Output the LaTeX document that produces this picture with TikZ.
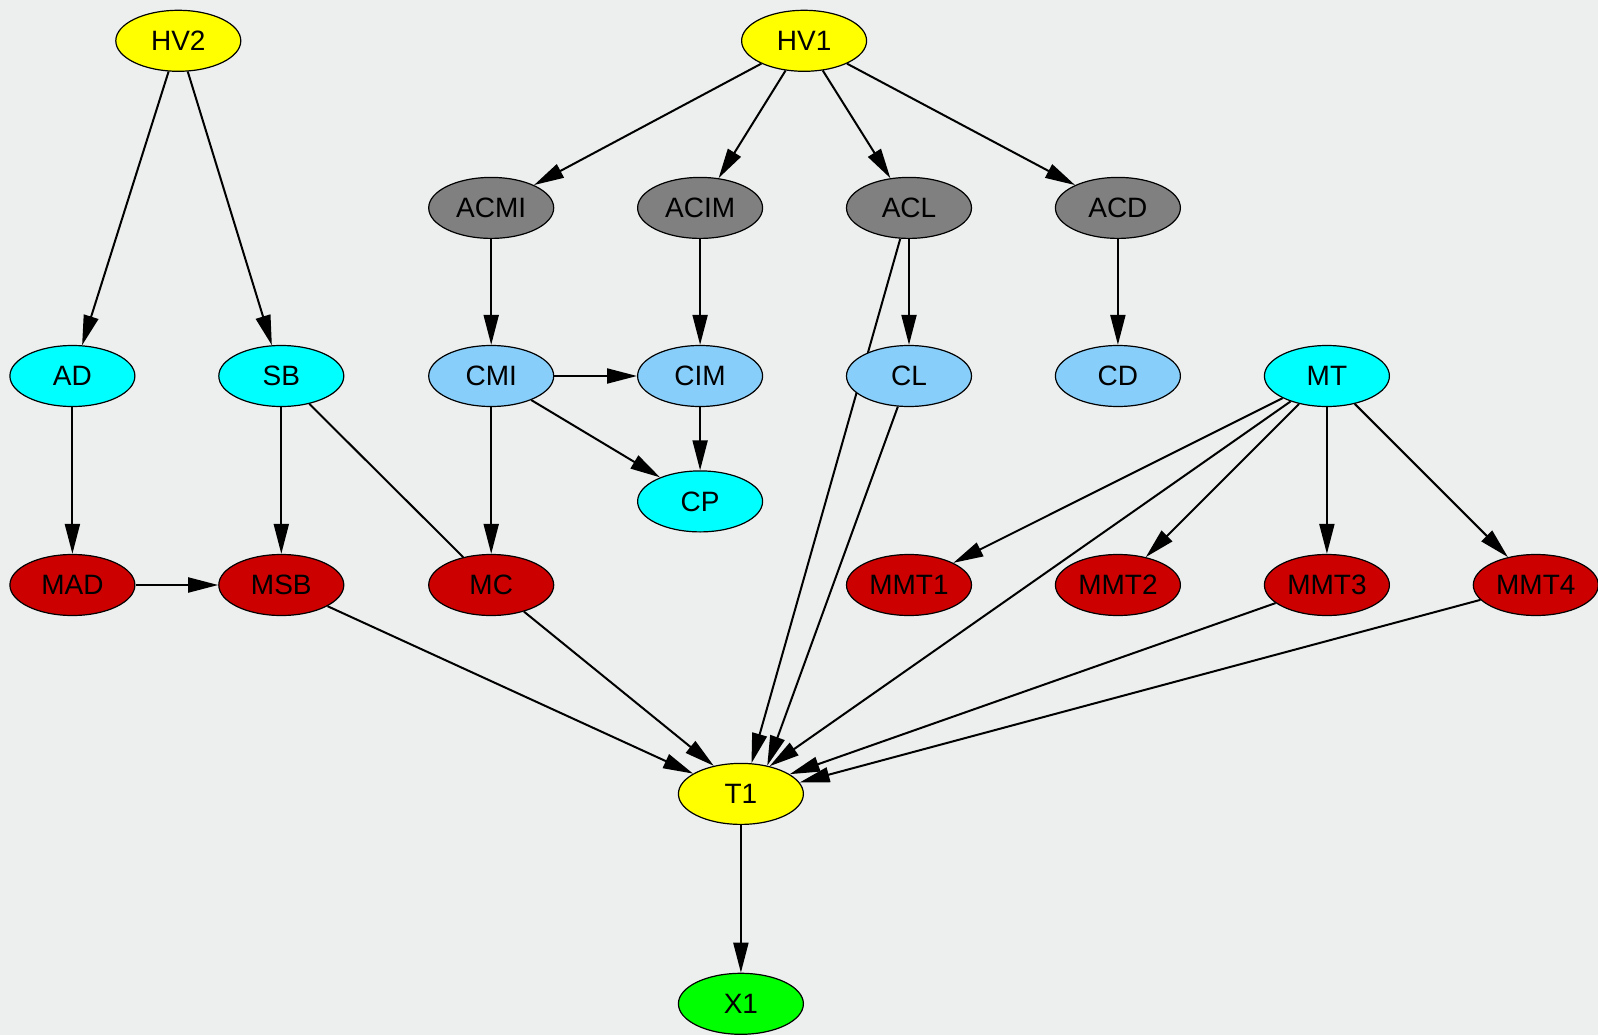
\documentclass[tikz,border=0pt]{standalone}
\usepackage{fontspec}
\setmainfont{Liberation Sans}
\usetikzlibrary{arrows.meta,shapes.geometric}

\pgfdeclarelayer{paper}
\pgfdeclarelayer{edgelayer}
\pgfsetlayers{paper,edgelayer,main}

\definecolor{paperbg}{RGB}{237,239,239}
\definecolor{hvyellow}{RGB}{255,255,0}
\definecolor{acgray}{RGB}{128,128,128}
\definecolor{cblue}{RGB}{135,206,250}
\definecolor{ccyan}{RGB}{0,255,255}
\definecolor{mred}{RGB}{205,0,0}
\definecolor{xgreen}{RGB}{0,255,0}

\tikzset{
  gnode/.style={ellipse, draw=black, line width=1.2pt,
    minimum width=125pt, minimum height=61pt, inner sep=0pt,
    font=\fontsize{28}{32}\selectfont},
  hv/.style={gnode, fill=hvyellow},
  ac/.style={gnode, fill=acgray},
  cb/.style={gnode, fill=cblue},
  cy/.style={gnode, fill=ccyan},
  mr/.style={gnode, fill=mred},
  xg/.style={gnode, fill=xgreen},
  link/.style={line width=2pt, -{Triangle[length=30pt,width=15pt]}},
  plainlink/.style={line width=2pt}
}

\begin{document}
\begin{tikzpicture}[x=1pt,y=-1pt]
  \begin{pgfonlayer}{paper}
    \fill[paperbg] (0,0) rectangle (1598,1035);
  \end{pgfonlayer}
  \useasboundingbox (0,0) rectangle (1598,1035);

  % top row
  \node[hv] (HV2) at (178.3,40.8) {HV2};
  \node[hv] (HV1) at (804.1,40.8) {HV1};

  % AC row
  \node[ac] (ACMI) at (491.2,207.9) {ACMI};
  \node[ac] (ACIM) at (700.1,207.9) {ACIM};
  \node[ac] (ACL)  at (909.0,207.9) {ACL};
  \node[ac] (ACD)  at (1117.9,207.9) {ACD};

  % middle row
  \node[cy] (AD)  at (72.4,376) {AD};
  \node[cy] (SB)  at (281.3,376) {SB};
  \node[cb] (CMI) at (491.2,376) {CMI};
  \node[cb] (CIM) at (700.1,376) {CIM};
  \node[cb] (CL)  at (909.0,376) {CL};
  \node[cb] (CD)  at (1117.9,376) {CD};
  \node[cy] (MT)  at (1326.9,376) {MT};

  \node[cy] (CP) at (700.1,501.4) {CP};

  % M row
  \node[mr] (MAD)  at (72.4,585) {MAD};
  \node[mr] (MSB)  at (281.3,585) {MSB};
  \node[mr] (MC)   at (491.2,585) {MC};
  \node[mr] (MMT1) at (909.0,585) {MMT1};
  \node[mr] (MMT2) at (1117.9,585) {MMT2};
  \node[mr] (MMT3) at (1326.9,585) {MMT3};
  \node[mr] (MMT4) at (1535.8,585) {MMT4};

  % bottom
  \node[hv] (T1) at (740.9,793.9) {T1};
  \node[xg] (X1) at (740.9,1003.8) {X1};

  \begin{pgfonlayer}{edgelayer}
    \draw[link] (HV2) -- (AD);
    \draw[link] (HV2) -- (SB);
    \draw[link] (HV1) -- (ACMI);
    \draw[link] (HV1) -- (ACIM);
    \draw[link] (HV1) -- (ACL);
    \draw[link] (HV1) -- (ACD);
    \draw[link] (ACMI) -- (CMI);
    \draw[link] (ACIM) -- (CIM);
    \draw[link] (ACL) -- (CL);
    \draw[link] (ACD) -- (CD);
    \draw[link] (ACL) -- (T1.71);
    \draw[link] (CL) -- (T1.47);
    \draw[link] (AD) -- (MAD);
    \draw[link] (SB) -- (MSB);
    \draw[plainlink] (SB) -- (MC);
    \draw[link] (CMI) -- (CIM);
    \draw[link] (CMI) -- (CP);
    \draw[link] (CMI) -- (MC);
    \draw[link] (CIM) -- (CP);
    \draw[link] (MAD) -- (MSB);
    \draw[link] (MSB) -- (T1.157);
    \draw[link] (MC) -- (T1.134);
    \draw[link] (MT) -- (MMT1);
    \draw[link] (MT) -- (MMT2);
    \draw[link] (MT) -- (MMT3);
    \draw[link] (MT) -- (MMT4);
    \draw[link] (MT) -- (T1.44);
    \draw[link] (MMT3) -- (T1.22);
    \draw[link] (MMT4) -- (T1.11);
    \draw[link] (T1) -- (X1);
  \end{pgfonlayer}
\end{tikzpicture}
\end{document}
